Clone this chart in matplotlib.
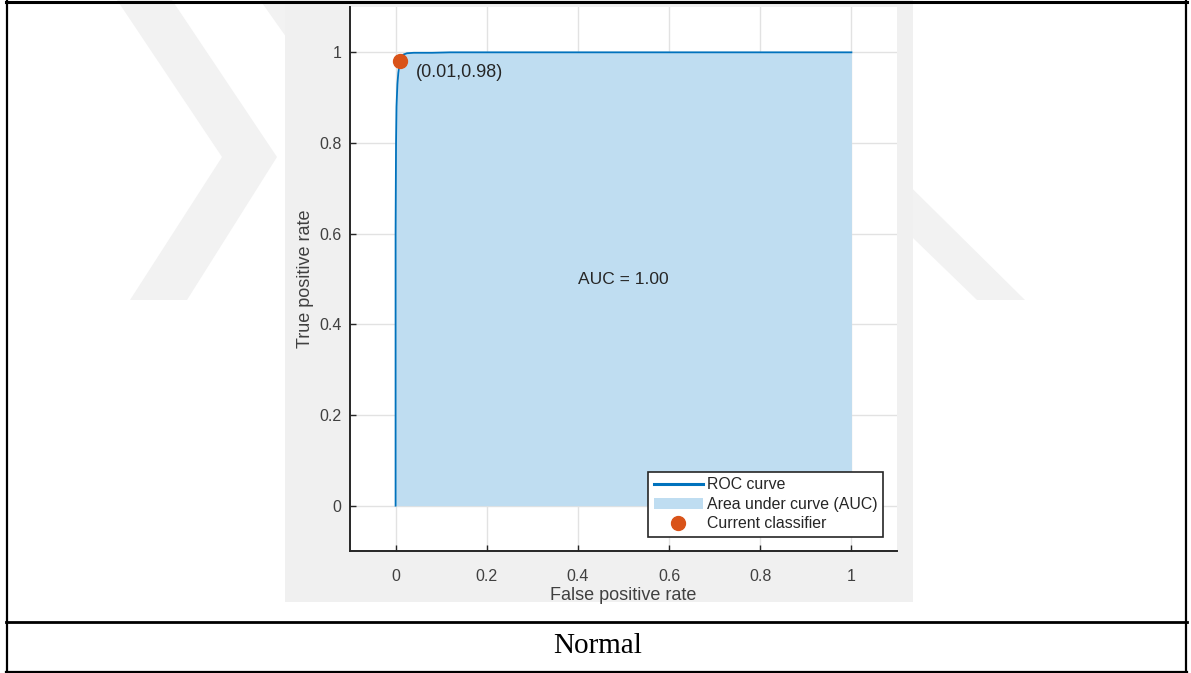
import matplotlib.pyplot as plt
from matplotlib.lines import Line2D
from matplotlib.patches import Patch, Polygon, Rectangle

# ROC curve points
fpr = [0.0, 0.0, 0.001, 0.002, 0.004, 0.006, 0.008, 0.010, 0.013, 0.017, 0.025, 0.04, 0.08, 0.12, 0.3, 0.6, 1.0]
tpr = [0.0, 0.60, 0.80, 0.88, 0.93, 0.955, 0.97, 0.98, 0.99, 0.995, 0.998, 0.999, 0.999, 1.0, 1.0, 1.0, 1.0]
op_point = (0.01, 0.98)
auc_label = "AUC = 1.00"
ticks = [0, 0.2, 0.4, 0.6, 0.8, 1]
tick_labels = ["0", "0.2", "0.4", "0.6", "0.8", "1"]
legend_labels = ["ROC curve", "Area under curve (AUC)", "Current classifier"]
caption = "Normal"

W, H = 1191, 673
fig = plt.figure(figsize=(W / 100, H / 100), dpi=100)
fig.patch.set_facecolor("white")

# page layer: watermark, screenshot background, table borders (pixel coords)
bg = fig.add_axes([0, 0, 1, 1])
bg.set_xlim(0, W)
bg.set_ylim(H, 0)
bg.axis("off")
wm = "#f2f2f2"
bg.add_patch(Polygon([(117, 0), (172, 0), (277, 157), (187, 300), (130, 300), (222, 157)],
                     closed=True, color=wm, lw=0))
bg.add_patch(Polygon([(260, 0), (320, 0), (320, 85)], closed=True, color=wm, lw=0))
bg.add_patch(Polygon([(850, 127), (1025, 300), (977, 300), (850, 177)], closed=True, color=wm, lw=0))
bg.add_patch(Rectangle((285, 0), 628, 602, color="#f0f0f0", lw=0))
bg.plot([6, 1187], [1.5, 1.5], color="black", lw=2.2)
bg.plot([6, 1187], [621.5, 621.5], color="black", lw=2.0)
bg.plot([6, 1187], [671.5, 671.5], color="black", lw=1.6)
bg.plot([7, 7], [0, 673], color="black", lw=1.6)
bg.plot([1186, 1186], [0, 673], color="black", lw=1.6)
bg.text(598, 646, caption, ha="center", va="center", fontsize=21,
        family="Liberation Serif", color="black")

# ROC axes
ax = fig.add_axes([350 / W, 1 - 551 / H, 547 / W, 544 / H])
ax.set_facecolor("white")
ax.set_xlim(-0.1, 1.1)
ax.set_ylim(-0.1, 1.1)

roc_color = "#0072BD"
fill_color = "#bfddf1"
pt_color = "#D95319"

ax.fill_between(fpr, tpr, 0, color=fill_color, lw=0, zorder=2)
ax.plot(fpr, tpr, color=roc_color, lw=1.3, zorder=3)
ax.plot(*op_point, "o", color=pt_color, ms=10, zorder=4)
ax.annotate("(%.2f,%.2f)" % op_point, xy=op_point, xytext=(11, -8), textcoords="offset points",
            ha="left", va="center", fontsize=13, family="Liberation Sans", color="#262626")
ax.text(0.5, 0.5, auc_label, ha="center", va="center", fontsize=12.5,
        family="Liberation Sans", color="#262626", zorder=5)

ax.set_xticks(ticks)
ax.set_xticklabels(tick_labels)
ax.set_yticks(ticks)
ax.set_yticklabels(tick_labels)
ax.grid(True, color="#e2e2e2", lw=1.0, zorder=0)
ax.set_axisbelow(True)
for s in ["top", "right"]:
    ax.spines[s].set_visible(False)
for s in ["left", "bottom"]:
    ax.spines[s].set_color("#262626")
    ax.spines[s].set_linewidth(1.4)
ax.tick_params(direction="in", length=4, width=1, color="#262626",
               labelsize=11.5, labelcolor="#404040")
ax.tick_params(axis="x", pad=13)
ax.tick_params(axis="y", pad=6)
for lab in ax.get_xticklabels() + ax.get_yticklabels():
    lab.set_family("Liberation Sans")
ax.set_xlabel("False positive rate", fontsize=13, family="Liberation Sans", color="#404040", labelpad=2)
ax.set_ylabel("True positive rate", fontsize=13, family="Liberation Sans", color="#404040", labelpad=4)

handles = [Line2D([0], [0], color=roc_color, lw=2.2),
           Patch(color=fill_color, lw=0),
           Line2D([0], [0], marker="o", ls="none", color=pt_color, ms=10)]
leg = ax.legend(handles, legend_labels, loc="lower right", bbox_to_anchor=(0.974, 0.026),
                borderaxespad=0, fancybox=False, framealpha=1, edgecolor="#262626",
                prop={"family": "Liberation Sans", "size": 11.4}, handlelength=3.1,
                handletextpad=0.25, labelspacing=0.28, borderpad=0.35)
leg.get_frame().set_linewidth(1.2)
for t in leg.get_texts():
    t.set_color("#262626")

fig.savefig("out.png", dpi=100)
